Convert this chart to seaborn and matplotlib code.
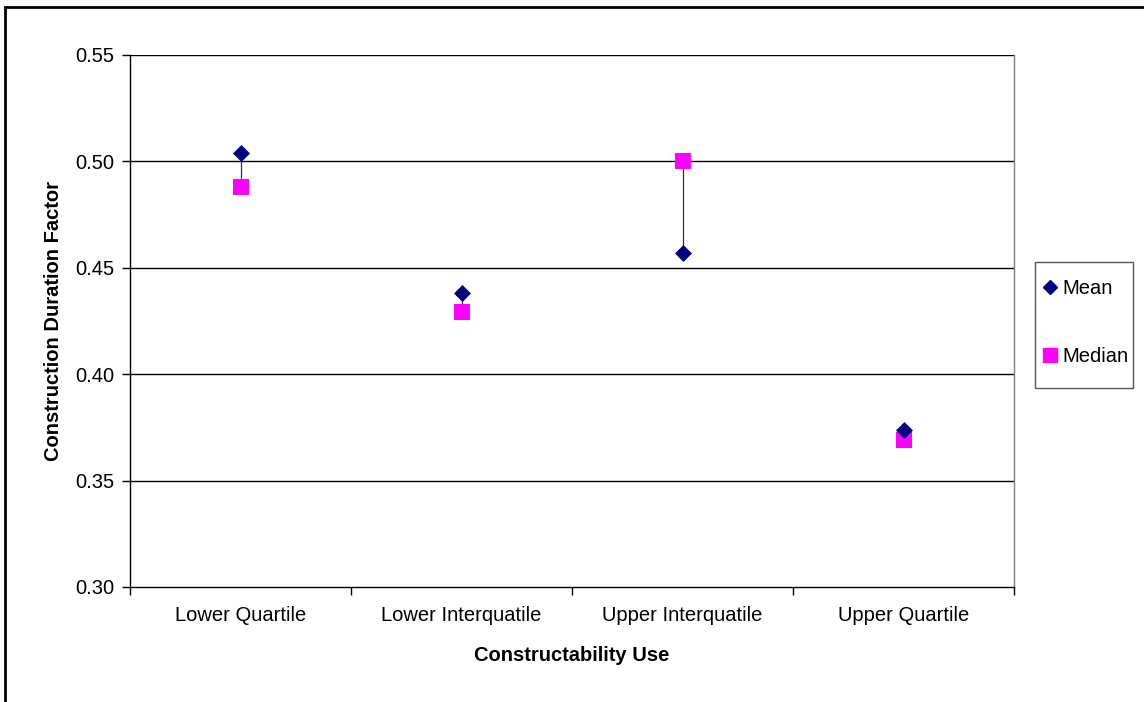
import matplotlib
matplotlib.use("Agg")
import matplotlib.pyplot as plt
import seaborn as sns
import pandas as pd
import numpy as np
from matplotlib.patches import Rectangle
from matplotlib.lines import Line2D

categories = ["Lower Quartile", "Lower Interquatile", "Upper Interquatile", "Upper Quartile"]
mean_vals = [0.504, 0.438, 0.457, 0.374]
median_vals = [0.488, 0.429, 0.500, 0.369]
y_ticks = [0.30, 0.35, 0.40, 0.45, 0.50, 0.55]
y_tick_labels = ["0.30", "0.35", "0.40", "0.45", "0.50", "0.55"]

sns.set_theme(style="white")
plt.rcParams['font.family'] = ['Liberation Sans', 'DejaVu Sans']
plt.rcParams['text.color'] = 'black'
plt.rcParams['axes.labelcolor'] = 'black'
plt.rcParams['xtick.color'] = 'black'
plt.rcParams['ytick.color'] = 'black'

FS = 14.5

df = pd.DataFrame({"cat": categories, "Mean": mean_vals, "Median": median_vals})

fig = plt.figure(figsize=(11.44, 7.02), dpi=100)
ax = fig.add_axes([130/1144, 1-587/702, (1014-130)/1144, (587-55)/702])

xpos = np.arange(len(categories))
# high-low lines
ax.vlines(xpos, np.minimum(df["Mean"], df["Median"]), np.maximum(df["Mean"], df["Median"]),
          color="#333333", lw=0.9, zorder=2)

sns.scatterplot(x=xpos, y=df["Median"], marker="s", s=130, color="#FF00FF",
                edgecolor="#FF00FF", linewidth=0, ax=ax, zorder=3, legend=False)
sns.scatterplot(x=xpos, y=df["Mean"], marker="D", s=75, color="#000080",
                edgecolor="#000080", linewidth=0, ax=ax, zorder=4, legend=False)

ax.set_xlim(-0.5, len(categories) - 0.5)
ax.set_ylim(0.30, 0.55)
ax.set_yticks(y_ticks)
ax.set_yticklabels(y_tick_labels, fontsize=FS)
ax.set_xticks(xpos)
ax.set_xticklabels(categories, fontsize=FS)
ax.set_xticks(np.arange(-0.5, len(categories)), minor=True)
ax.tick_params(axis="x", which="major", length=0, pad=14)
ax.tick_params(axis="x", which="minor", length=6, width=1, color="black", direction="out", bottom=True)
ax.tick_params(axis="y", which="major", length=6, width=1, color="black", direction="out", left=True, pad=5)

for y in y_ticks[1:]:
    ax.axhline(y, color="black", lw=1, zorder=1)

for side in ["top", "bottom", "left"]:
    ax.spines[side].set_visible(side != "top")
    ax.spines[side].set_color("black")
    ax.spines[side].set_linewidth(1)
ax.spines["right"].set_color("#808080")
ax.spines["right"].set_linewidth(1)
ax.grid(False)

ax.set_xlabel("Constructability Use", fontsize=FS, fontweight="bold", labelpad=15)
ax.set_ylabel("Construction Duration Factor", fontsize=FS, fontweight="bold", labelpad=9)

# legend
handles = [Line2D([], [], marker="D", color="#000080", ls="none", markersize=7),
           Line2D([], [], marker="s", color="#FF00FF", ls="none", markersize=10)]
leg = fig.legend(handles, ["Mean", "Median"], loc="upper left",
                 bbox_to_anchor=(1042/1144, 1-279/702), fontsize=FS,
                 frameon=False, labelspacing=2.45, handletextpad=0.2, handlelength=0.8,
                 borderpad=0, borderaxespad=0)
fig.patches.append(Rectangle((1035/1144, 1-388/702), 98/1144, 126/702, transform=fig.transFigure,
                             fill=False, edgecolor="#555555", lw=1))

# figure border
fig.patches.append(Rectangle((5/1144, -0.05), 1.2, 1 - 7/702 + 0.05, transform=fig.transFigure,
                             fill=False, edgecolor="black", lw=2))

fig.savefig("out.png", dpi=100)
